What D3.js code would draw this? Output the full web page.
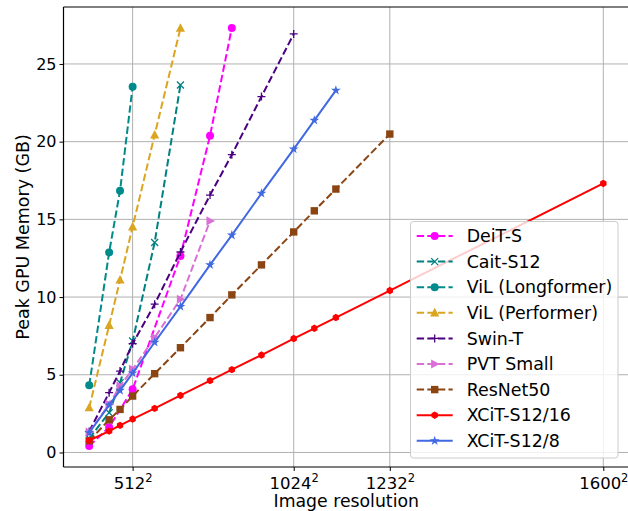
<!DOCTYPE html>
<html><head><meta charset="utf-8">
<script src="https://cdn.jsdelivr.net/npm/d3@7"></script>
<style>body{margin:0;background:#fff}svg{display:block;font-family:"DejaVu Sans",sans-serif}</style>
</head><body><svg id="c" width="628" height="511"></svg>
<script>
// ---- data (resolution side length; plotted as side^2) ----
const xTickRes = [512, 1024, 1232, 1600];
const yTicks = [0, 5, 10, 15, 20, 25];

const deitRes = [224, 384, 512, 704, 800, 864];
const deitMem = [0.41, 1.63, 4.06, 12.65, 20.38, 27.32];

const caitRes = [224, 384, 448, 512, 608, 704];
const caitMem = [0.9, 2.56, 4.49, 7.17, 13.51, 23.65];

const vilLongRes = [224, 384, 448, 512];
const vilLongMem = [4.32, 12.87, 16.84, 23.54];

const vilPerfRes = [224, 384, 448, 512, 608, 704];
const vilPerfMem = [2.88, 8.18, 11.1, 14.52, 20.43, 27.3];

const swinRes = [224, 384, 448, 512, 608, 704, 800, 864, 944, 1024];
const swinMem = [1.35, 3.85, 5.24, 7.0, 9.54, 12.9, 16.56, 19.16, 22.9, 26.93];

const pvtRes = [224, 384, 448, 512, 608, 704, 800];
const pvtMem = [1.31, 3.09, 4.27, 5.35, 7.39, 9.86, 14.9];

const resnetRes = [224, 384, 448, 512, 608, 704, 800, 864, 944, 1024, 1072, 1120, 1232];
const resnetMem = [0.75, 2.1, 2.77, 3.63, 5.07, 6.74, 8.68, 10.14, 12.07, 14.19, 15.55, 16.95, 20.49];

const xcit16Res = [224, 384, 448, 512, 608, 704, 800, 864, 944, 1024, 1072, 1120, 1232, 1600];
const xcit16Mem = [0.77, 1.37, 1.74, 2.15, 2.84, 3.67, 4.62, 5.33, 6.27, 7.33, 7.99, 8.68, 10.42, 17.31];

const xcit8Res = [224, 384, 448, 512, 608, 704, 800, 864, 944, 1024, 1072, 1120];
const xcit8Mem = [1.27, 3.05, 3.99, 5.11, 7.09, 9.39, 12.07, 13.98, 16.67, 19.52, 21.37, 23.3];

const series = [
  {name: "DeiT-S", res: deitRes, mem: deitMem, color: "#ff00ff", dash: true, marker: "circle"},
  {name: "Cait-S12", res: caitRes, mem: caitMem, color: "#008080", dash: true, marker: "x"},
  {name: "ViL (Longformer)", res: vilLongRes, mem: vilLongMem, color: "#008b8b", dash: true, marker: "circle"},
  {name: "ViL (Performer)", res: vilPerfRes, mem: vilPerfMem, color: "#daa520", dash: true, marker: "triUp"},
  {name: "Swin-T", res: swinRes, mem: swinMem, color: "#4b0082", dash: true, marker: "plus"},
  {name: "PVT Small", res: pvtRes, mem: pvtMem, color: "#da70d6", dash: true, marker: "triRight"},
  {name: "ResNet50", res: resnetRes, mem: resnetMem, color: "#8b4513", dash: true, marker: "square"},
  {name: "XCiT-S12/16", res: xcit16Res, mem: xcit16Mem, color: "#ff0000", dash: false, marker: "hex"},
  {name: "XCiT-S12/8", res: xcit8Res, mem: xcit8Mem, color: "#4169e1", dash: false, marker: "star"}
];

// ---- layout ----
const L = 63.5, R = 629, T = 7, B = 467;
const svg = d3.select("#c");

const allX = series.flatMap(s => s.res.map(r => r * r));
const allY = series.flatMap(s => s.mem);
const xmin = d3.min(allX), xmax = d3.max(allX);
const ymin = d3.min(allY), ymax = d3.max(allY);
const px = (xmax - xmin) * 0.05, py = (ymax - ymin) * 0.05;
const x = d3.scaleLinear().domain([xmin - px, xmax + px]).range([L, R]);
const y = d3.scaleLinear().domain([ymin - py, ymax + py]).range([B, T]);

// grid
const grid = svg.append("g");
grid.selectAll(".gx").data(xTickRes).enter().append("line")
  .attr("x1", d => x(d * d)).attr("x2", d => x(d * d)).attr("y1", T).attr("y2", B)
  .attr("stroke", "#b0b0b0").attr("stroke-width", 1);
grid.selectAll(".gy").data(yTicks).enter().append("line")
  .attr("x1", L).attr("x2", R).attr("y1", d => y(d)).attr("y2", d => y(d))
  .attr("stroke", "#b0b0b0").attr("stroke-width", 1);

// axes
const xAxis = d3.axisBottom(x).tickValues(xTickRes.map(r => r * r)).tickSize(4).tickFormat("");
const gx = svg.append("g").attr("transform", `translate(0,${B})`).call(xAxis);
gx.select(".domain").remove();
gx.selectAll(".tick line").attr("stroke", "#000").attr("stroke-width", 1);
gx.selectAll(".tick").each(function(d) {
  const t = d3.select(this).append("text").attr("y", 21.7).attr("fill", "#000")
    .attr("font-size", 16.5).attr("text-anchor", "middle").attr("font-family", "DejaVu Sans");
  t.append("tspan").text(Math.round(Math.sqrt(d)));
  t.append("tspan").attr("dy", -7).attr("font-size", 11.5).text("2");
});

const yAxis = d3.axisLeft(y).tickValues(yTicks).tickSize(4).tickFormat(d3.format("d"));
const gy = svg.append("g").attr("transform", `translate(${L},0)`).call(yAxis);
gy.select(".domain").remove();
gy.selectAll(".tick line").attr("stroke", "#000").attr("stroke-width", 1);
gy.selectAll(".tick text").attr("font-size", 16).attr("fill", "#000").attr("x", -7)
  .attr("font-family", "DejaVu Sans");

// spines
svg.append("line").attr("x1", L).attr("x2", L).attr("y1", T).attr("y2", B).attr("stroke", "#000").attr("stroke-width", 1.2);
svg.append("line").attr("x1", L).attr("x2", R).attr("y1", B).attr("y2", B).attr("stroke", "#000").attr("stroke-width", 1.2);
svg.append("line").attr("x1", L).attr("x2", R).attr("y1", T).attr("y2", T).attr("stroke", "#000").attr("stroke-width", 1.2);
svg.append("line").attr("x1", R).attr("x2", R).attr("y1", T).attr("y2", B).attr("stroke", "#000").attr("stroke-width", 1.2);

// labels
svg.append("text").attr("x", (L + R) / 2).attr("y", 506.5).attr("text-anchor", "middle")
  .attr("font-size", 17.3).text("Image resolution");
svg.append("text").attr("transform", `translate(29,${(T + B) / 2}) rotate(-90)`)
  .attr("text-anchor", "middle").attr("font-size", 17.5).text("Peak GPU Memory (GB)");

// markers
function drawMarker(g, type, cx, cy, color) {
  if (type === "circle") {
    g.append("circle").attr("cx", cx).attr("cy", cy).attr("r", 4).attr("fill", color);
  } else if (type === "hex") {
    g.append("path").attr("transform", `translate(${cx},${cy})`)
      .attr("d", d3.line()(d3.range(6).map(i => [3.7 * Math.cos(Math.PI / 3 * i + Math.PI / 6), 3.7 * Math.sin(Math.PI / 3 * i + Math.PI / 6)])) + "Z")
      .attr("fill", color);
  } else if (type === "square") {
    g.append("rect").attr("x", cx - 3.7).attr("y", cy - 3.7).attr("width", 7.4).attr("height", 7.4).attr("fill", color);
  } else if (type === "triUp") {
    g.append("path").attr("d", `M${cx},${cy - 5}L${cx + 4.6},${cy + 3.6}L${cx - 4.6},${cy + 3.6}Z`).attr("fill", color);
  } else if (type === "triRight") {
    g.append("path").attr("d", `M${cx + 5},${cy}L${cx - 3.6},${cy - 4.6}L${cx - 3.6},${cy + 4.6}Z`).attr("fill", color);
  } else if (type === "x") {
    g.append("path").attr("d", `M${cx - 3.5},${cy - 3.5}L${cx + 3.5},${cy + 3.5}M${cx - 3.5},${cy + 3.5}L${cx + 3.5},${cy - 3.5}`)
      .attr("stroke", color).attr("stroke-width", 1.3);
  } else if (type === "plus") {
    g.append("path").attr("d", `M${cx - 4},${cy}L${cx + 4},${cy}M${cx},${cy - 4}L${cx},${cy + 4}`)
      .attr("stroke", color).attr("stroke-width", 1.3);
  } else if (type === "star") {
    g.append("path").attr("transform", `translate(${cx},${cy})`)
      .attr("d", d3.symbol(d3.symbolStar, 30)()).attr("fill", color);
  }
}

const line = d3.line().x(d => x(d[0] * d[0])).y(d => y(d[1]));
const plot = svg.append("g");
series.forEach(s => {
  const pts = s.res.map((r, i) => [r, s.mem[i]]);
  const g = plot.append("g");
  g.append("path").attr("d", line(pts)).attr("fill", "none").attr("stroke", s.color)
    .attr("stroke-width", 2).attr("stroke-dasharray", s.dash ? "7.4,3.2" : null);
  pts.forEach(p => drawMarker(g, s.marker, x(p[0] * p[0]), y(p[1]), s.color));
});

// legend
const lg = svg.append("g");
const lx = 410.5, ly = 221.5, lw = 207.5, lh = 236.5;
lg.append("rect").attr("x", lx).attr("y", ly).attr("width", lw).attr("height", lh).attr("rx", 3)
  .attr("fill", "rgba(255,255,255,0.8)").attr("stroke", "#cccccc").attr("stroke-width", 1);
series.forEach((s, i) => {
  const cy = 236 + i * 25.6;
  lg.append("line").attr("x1", 416.7).attr("x2", 452.7).attr("y1", cy).attr("y2", cy)
    .attr("stroke", s.color).attr("stroke-width", 2).attr("stroke-dasharray", s.dash ? "7.4,3.2" : null);
  drawMarker(lg, s.marker, 434.7, cy, s.color);
  lg.append("text").attr("x", 466.7).attr("y", cy + 6.2).attr("font-size", 17.4).text(s.name);
});
</script></body></html>
